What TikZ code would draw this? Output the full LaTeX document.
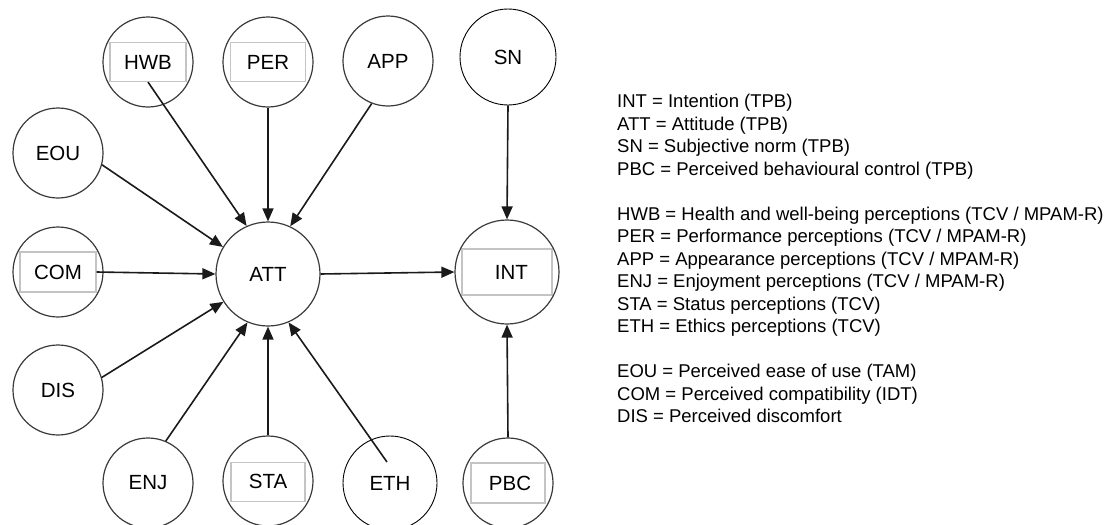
\documentclass[tikz,border=0pt]{standalone}
\usepackage{fontspec}
\setmainfont{Liberation Sans}
\usetikzlibrary{arrows.meta}
\definecolor{circ}{HTML}{3A3A3A}
\definecolor{boxc}{HTML}{C4C4C4}
\definecolor{arr}{HTML}{1A1A1A}
\tikzset{
  var/.style={circle, draw=circ, line width=1.2pt, minimum size=90pt, inner sep=0pt,
    font=\fontsize{20.5}{24}\selectfont},
  bigvar/.style={var, minimum size=104pt},
  blackvar/.style={var, draw=black, line width=0.9pt},
  inbox/.style={draw=boxc, line width=1.2pt, minimum width=76pt, minimum height=39pt, inner sep=0pt},
  conn/.style={draw=arr, line width=1.6pt, -{Triangle[length=13pt,width=11pt]}},
  legend/.style={anchor=base west, inner sep=0pt, font=\fontsize{18.5}{22}\selectfont}
}
\begin{document}
\begin{tikzpicture}[x=1pt,y=-1pt]
\useasboundingbox (0,0) rectangle (1112,525);
% inner boxes (drawn first)
\node[inbox] (hwbr) at (148,62) {};
\node[inbox, minimum width=75pt] (perr) at (268,62) {};
\node[inbox, minimum height=40pt] (comr) at (58,272) {};
\node[inbox, minimum width=90pt, minimum height=46pt] (intr) at (507,272) {};
\node[inbox, minimum width=74pt] (star) at (268,482) {};
\node[inbox, minimum width=74pt, minimum height=40pt] (pbcr) at (508,483) {};
% circles
\node[var] (HWB) at (148,62) {HWB};
\node[var] (PER) at (268,62) {PER};
\node[var] (APP) at (388,61) {APP};
\node[blackvar, minimum size=96pt] (SN) at (508,57) {SN};
\node[var] (EOU) at (58,153) {EOU};
\node[var] (COM) at (58,272) {COM};
\node[var] (DIS) at (58,390) {DIS};
\node[bigvar] (ATT) at (268,274) {ATT};
\node[bigvar] (INT) at (507,272) {\hspace*{9pt}INT};
\node[var] (ENJ) at (148,483) {ENJ};
\node[var] (STA) at (268,481) {STA};
\node[blackvar, minimum size=94pt] (ETH) at (390,483) {ETH};
\node[var] (PBC) at (508,483) {\hspace*{4pt}PBC};
\coordinate (ethS) at (387,462);
% connectors
\draw[conn] (hwbr.south) -- (ATT.114);
\draw[conn] (PER.south) -- (ATT.north);
\draw[conn] (APP.249) -- (ATT.65);
\draw[conn] (EOU.-15) -- (ATT.149);
\draw[conn] (comr.east) -- (ATT.west);
\draw[conn] (DIS.16) -- (ATT.212);
\draw[conn] (ENJ.67) -- (ATT.247);
\draw[conn] (STA.north) -- (ATT.south);
\draw[conn] (ethS) -- (ATT.293);
\draw[conn] (ATT.east) -- (INT.west);
\draw[conn] (SN.south) -- (INT.north);
\draw[conn] (PBC.north) -- (INT.south);
% legend
\node[legend] (l1) at (617,107.5) {INT = Intention (TPB)};
\node[legend] (l2) at (617,130) {ATT = Attitude (TPB)};
\node[legend] (l3) at (617,152.5) {SN = Subjective norm (TPB)};
\node[legend] (l4) at (617,175) {PBC = Perceived behavioural control (TPB)};
\node[legend] (l5) at (617,220) {HWB = Health and well-being perceptions (TCV / MPAM-R)};
\node[legend] (l6) at (617,242.5) {PER = Performance perceptions (TCV / MPAM-R)};
\node[legend] (l7) at (617,265) {APP = Appearance perceptions (TCV / MPAM-R)};
\node[legend] (l8) at (617,287.5) {ENJ = Enjoyment perceptions (TCV / MPAM-R)};
\node[legend] (l9) at (617,310) {STA = Status perceptions (TCV)};
\node[legend] (l10) at (617,332.5) {ETH = Ethics perceptions (TCV)};
\node[legend] (l11) at (617,377.5) {EOU = Perceived ease of use (TAM)};
\node[legend] (l12) at (617,400) {COM = Perceived compatibility (IDT)};
\node[legend] (l13) at (617,422.5) {DIS = Perceived discomfort};
\end{tikzpicture}
\end{document}
